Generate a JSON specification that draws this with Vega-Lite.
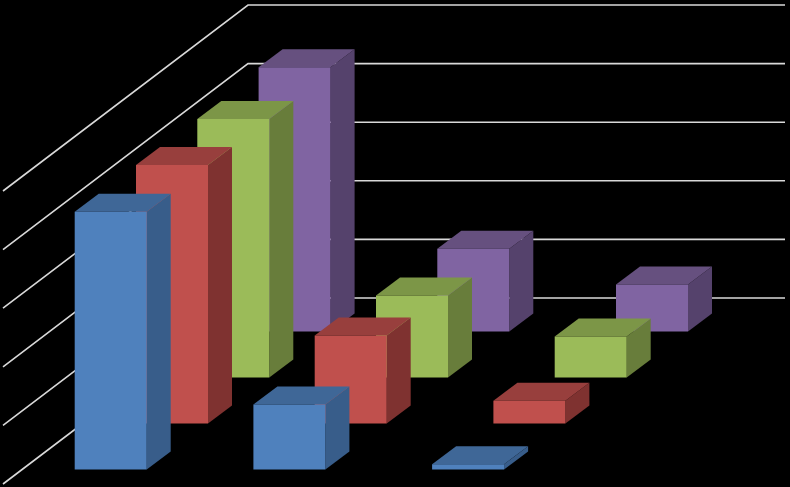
{
"$schema":"https://vega.github.io/schema/vega-lite/v6.json",
"width":790,"height":487,"padding":0,
"autosize":{"type":"none"},
"background":"#000000",
"config":{"view":{"stroke":null}},
"datasets":{
"grid":[{"level":0},{"level":1},{"level":2},{"level":3},{"level":4},{"level":5}],
"bars":[
{"series":"S4","depth":3,"cat":0,"value":4.51},
{"series":"S4","depth":3,"cat":1,"value":1.41},
{"series":"S4","depth":3,"cat":2,"value":0.8},
{"series":"S3","depth":2,"cat":0,"value":4.41},
{"series":"S3","depth":2,"cat":1,"value":1.4},
{"series":"S3","depth":2,"cat":2,"value":0.7},
{"series":"S2","depth":1,"cat":0,"value":4.41},
{"series":"S2","depth":1,"cat":1,"value":1.5},
{"series":"S2","depth":1,"cat":2,"value":0.39},
{"series":"S1","depth":0,"cat":0,"value":4.4},
{"series":"S1","depth":0,"cat":1,"value":1.11},
{"series":"S1","depth":0,"cat":2,"value":0.09}
]},
"layer":[
{"data":{"name":"grid"},
"transform":[
{"calculate":"[0,1,2]","as":"t"},{"flatten":["t"]},
{"calculate":"[3,248,785][datum.t]","as":"px"},
{"calculate":"298-58.6*datum.level+[186,0,0][datum.t]","as":"py"}],
"mark":{"type":"line","color":"#d9d9d9","strokeWidth":1.6,"interpolate":"linear"},
"encoding":{
"x":{"field":"px","type":"quantitative","scale":{"domain":[0,790],"nice":false,"zero":false},"axis":null},
"y":{"field":"py","type":"quantitative","scale":{"domain":[487,0],"nice":false,"zero":false},"axis":null},
"detail":{"field":"level"}}},
{"data":{"name":"bars"},
"transform":[
{"calculate":"['side','top','front']","as":"face"},{"flatten":["face"]},
{"calculate":"[0,1,2,3]","as":"t"},{"flatten":["t"]},
{"calculate":"74.7+178.7*datum.cat+61.3*datum.depth","as":"x0"},
{"calculate":"469.5-46*datum.depth","as":"base"},
{"calculate":"datum.base-58.6*datum.value","as":"top"},
{"calculate":"datum.x0+(datum.face=='front'?24*datum.t:datum.face=='side'?72+8*datum.t:[0,24,72,96][datum.t])","as":"px"},
{"calculate":"datum.face=='front'?datum.top:datum.face=='side'?datum.top-6*datum.t:[datum.top,datum.top-18,datum.top-18,datum.top-18][datum.t]","as":"py"},
{"calculate":"datum.face=='front'?datum.base:datum.face=='side'?datum.base-6*datum.t:[datum.top,datum.top,datum.top,datum.top-18][datum.t]","as":"py2"},
{"calculate":"datum.series+'-'+datum.cat+'-'+datum.face","as":"key"},
{"calculate":"datum.series+'-'+datum.face","as":"shade"}],
"mark":{"type":"area","interpolate":"linear"},
"encoding":{
"x":{"field":"px","type":"quantitative","scale":{"domain":[0,790],"nice":false,"zero":false},"axis":null},
"y":{"field":"py","type":"quantitative","scale":{"domain":[487,0],"nice":false,"zero":false},"axis":null},
"y2":{"field":"py2"},
"detail":{"field":"key"},
"fill":{"field":"shade","type":"nominal","legend":null,"scale":{
"domain":["S1-front","S1-side","S1-top","S2-front","S2-side","S2-top","S3-front","S3-side","S3-top","S4-front","S4-side","S4-top"],
"range":["#4f81bd","#385d8a","#3f6797","#c0504d","#7f3230","#983f3d","#9bbb59","#687d3b","#7c9647","#8064a2","#55426c","#66507f"]}}}}
]}
